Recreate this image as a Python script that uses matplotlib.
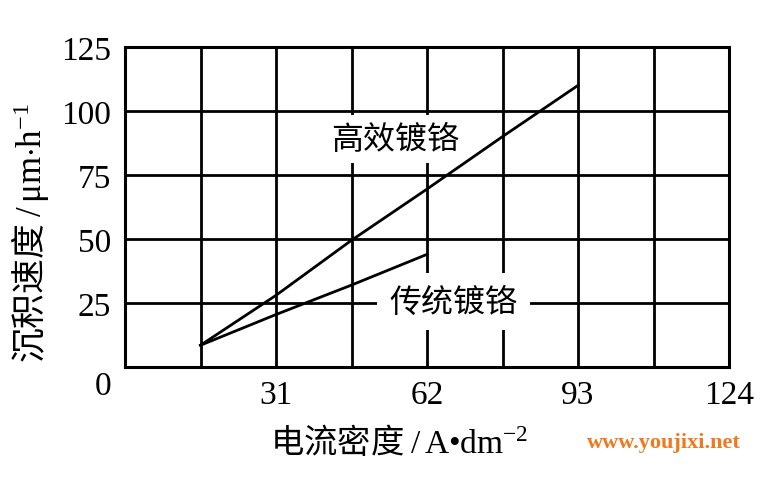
import numpy as np
import matplotlib
matplotlib.use('Agg')
import matplotlib.pyplot as plt
import matplotlib.transforms as mtransforms

plt.rcParams['font.family'] = ['Noto Sans CJK SC', 'DejaVu Sans']
plt.rcParams['mathtext.fontset'] = 'custom'
plt.rcParams['mathtext.rm'] = 'Liberation Serif'
plt.rcParams['mathtext.it'] = 'Liberation Serif:italic'

# data
x_high = [15.5, 31, 46.5, 62, 77.5, 93]
y_high = [8.5, 28, 49.5, 69.5, 90, 110]
x_trad = [15.5, 31, 46.5, 62]
y_trad = [8.5, 20.5, 32, 44]

x_grid = [15.5, 31, 46.5, 62, 77.5, 93, 108.5, 124]
x_labels = ['', '31', '', '62', '', '93', '', '124']
y_ticks = [0, 25, 50, 75, 100, 125]
y_labels = ['0', '25', '50', '75', '100', '125']

fig = plt.figure(figsize=(7.65, 4.81), dpi=100)
ax = fig.add_axes([125 / 765, 1 - 368 / 481, 604 / 765, 320 / 481])

ax.set_xlim(0, 124)
ax.set_ylim(0, 125)
ax.set_xticks(x_grid)
ax.set_xticklabels(x_labels)
ax.set_yticks(y_ticks)
ax.set_yticklabels(y_labels)
ax.tick_params(length=0, labelsize=24)
ax.tick_params(axis='y', pad=10)
ax.tick_params(axis='x', pad=9)
for lab in ax.get_xticklabels() + ax.get_yticklabels():
    lab.set_family('Liberation Serif')

# the "0" sits below the origin
lab0 = ax.get_yticklabels()[0]
lab0.set_transform(lab0.get_transform() + mtransforms.ScaledTranslation(0, -11 / 72, fig.dpi_scale_trans))

ax.grid(True, color='black', linewidth=2)
ax.set_axisbelow(True)
for s in ax.spines.values():
    s.set_linewidth(2.2)

ax.plot(x_high, y_high, color='black', linewidth=2, zorder=3)
ax.plot(x_trad, y_trad, color='black', linewidth=2, zorder=3)

ax.text(55.5, 89, '高效镀铬', ha='center', va='center', fontsize=23, zorder=2.5,
        bbox=dict(facecolor='white', edgecolor='none', pad=6))
ax.text(67.5, 25.5, '传统镀铬', ha='center', va='center', fontsize=23, zorder=2.5,
        bbox=dict(facecolor='white', edgecolor='none', pad=9))

fig.text(399 / 765, 1 - 443 / 481, r'电流密度 $\mathrm{/\,A{•}dm}^{-2}$',
         ha='center', va='center', fontsize=24)
fig.text(30 / 765, 1 - 233 / 481, r'沉积速度 $\mathrm{/\,μm{\cdot}h}^{-1}$',
         ha='center', va='center', fontsize=25, rotation=90)
fig.text(664 / 765, 1 - 443 / 481, 'www.youjixi.net', ha='center', va='center',
         fontsize=16, fontweight='bold', color='#f0781e', family='Liberation Serif')

fig.savefig('out.png', dpi=100)
